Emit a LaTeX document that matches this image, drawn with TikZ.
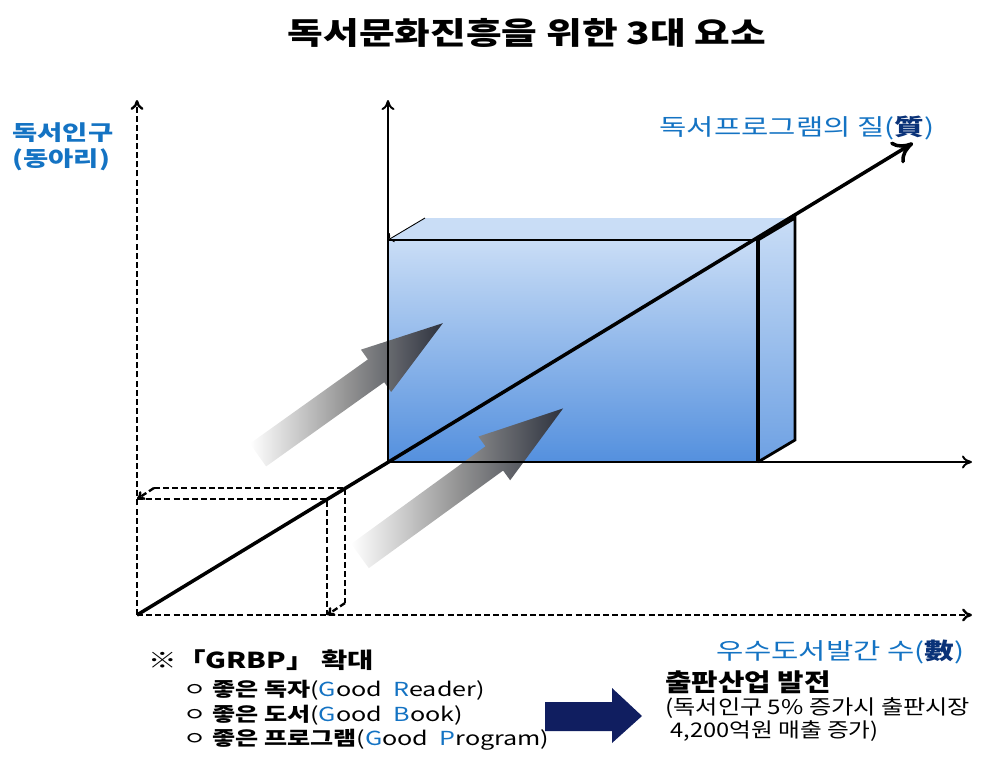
\documentclass[tikz,border=0pt]{standalone}
\usepackage{fontspec}
\setmainfont{Noto Sans CJK KR}
\usetikzlibrary{arrows.meta}

\definecolor{labelblue}{RGB}{20,115,195}
\definecolor{darkblue}{RGB}{10,50,120}
\definecolor{facetop}{RGB}{201,221,246}
\definecolor{facebot}{RGB}{84,144,222}
\definecolor{navy}{RGB}{16,30,96}
\definecolor{slate}{RGB}{45,50,62}

\tikzset{
  lbl/.style={inner sep=0pt, xscale=1.3},
  axtip/.style={-{To[length=2mm,width=2.6mm]}},
  dsh/.style={dash pattern=on 3.4pt off 1.8pt, line width=1.35pt},
  shadowarrow/.style={left color=white, right color=slate, middle color=black!42}
}

\begin{document}
\begin{tikzpicture}[x=0.02cm, y=-0.02cm]
	  \useasboundingbox (0,0) rectangle (992,765);

	  % box
	  \fill [facetop] (388,240)--(425,218)--(795,218)--(758,240)--cycle;
	  \shade [top color=facetop, middle color=facetop!92!facebot, bottom color=facebot] (388,240) rectangle (758,462);
	  \shade [top color=facetop, bottom color=facebot!85] (758,240)--(795,218)--(795,440)--(758,462)--cycle;

	  % shadow arrows
	  \begin{scope}[shift={(258,455)}, rotate=35.5]
	    \shade [shadowarrow] (0,-14)--(145,-14)--(145,-26)--(227,0)--(145,26)--(145,14)--(0,14)--cycle;
	  \end{scope}
	  \begin{scope}[shift={(360,556)}, rotate=36]
	    \shade [shadowarrow] (0,-15)--(166,-15)--(166,-27)--(251,0)--(166,27)--(166,15)--(0,15)--cycle;
	  \end{scope}

	  % box outline
	  \draw [line width=1.2pt] (388,240)--(758,240);
	  \draw [line width=1.8pt] (758,240)--(758,462);
	  \draw [line width=1.6pt] (758,240)--(795,218)--(795,440)--(758,462);
	  \draw [line width=0.5pt, -{To[length=1mm]}] (425,218)--(388,240);

	  % axes
	  \draw [dsh, axtip] (137,615)--(137,100);
	  \draw [dsh, axtip] (137,615)--(972,615);
	  \draw [line width=1.1pt, axtip] (388,462)--(388,100);
	  \draw [line width=1.1pt, axtip] (388,462)--(972,462);

	  % small box
	  \draw [dsh] (137,499)--(327,499)--(327,615);
	  \draw [dsh] (154,488)--(345,488)--(345,603);
	  \draw [dsh, -{To[length=1.5mm,width=2mm]}] (154,488)--(137,499);
	  \draw [dsh, -{To[length=1.5mm,width=2mm]}] (345,603)--(327,615);

	  \draw [line width=2pt, -{To[length=4mm,width=5mm]}] (137,615)--(913,143);

	  % texts
	  \node [lbl, xscale=0.97, font=\fontsize{17.5}{20}\selectfont\bfseries] (title) at (527,33) {독서문화진흥을 위한 3대 요소};

	  \node [lbl, anchor=west, text=labelblue, font=\fontsize{12}{14}\selectfont\bfseries] (ylabel) at (12,133) {독서인구};
	  \node [lbl, anchor=west, text=labelblue, font=\fontsize{12}{14}\selectfont\bfseries] (ysub) at (12,160) {(동아리)};
	  \node [lbl, anchor=east, text=labelblue, font=\fontsize{13}{15}\selectfont] (zlabel) at (935,128) {독서프로그램의 질(\textcolor{darkblue}{\bfseries 質})};
	  \node [lbl, anchor=east, text=labelblue, font=\fontsize{13}{15}\selectfont] (xlabel) at (965,652) {우수도서발간 수(\textcolor{darkblue}{\bfseries 數})};

	  \node [lbl, anchor=west, font=\fontsize{12.5}{15}\selectfont\bfseries] (grbp) at (148,660) {※「GRBP」 확대};
	  \node [lbl, anchor=west, font=\fontsize{11}{13}\selectfont] (good1) at (183,690) {ㅇ \textbf{좋은 독자}(\textcolor{labelblue}{G}ood~ \textcolor{labelblue}{R}eader)};
	  \node [lbl, anchor=west, font=\fontsize{11}{13}\selectfont] (good2) at (183,715) {ㅇ \textbf{좋은 도서}(\textcolor{labelblue}{G}ood~ \textcolor{labelblue}{B}ook)};
	  \node [lbl, anchor=west, font=\fontsize{11}{13}\selectfont] (good3) at (183,740) {ㅇ \textbf{좋은 프로그램}(\textcolor{labelblue}{G}ood~ \textcolor{labelblue}{P}rogram)};

	  \fill [navy] (545,702)--(612,702)--(612,688)--(642,716)--(612,743)--(612,731)--(545,731)--cycle;

	  \node [lbl, anchor=west, xscale=0.9, font=\fontsize{14}{16}\selectfont\bfseries] (result) at (665,682) {출판산업 발전};
	  \node [lbl, anchor=west, xscale=0.92, font=\fontsize{11.5}{14}\selectfont] (result2) at (665,708) {(독서인구 5\% 증가시 출판시장};
	  \node [lbl, anchor=west, xscale=0.9, font=\fontsize{11.5}{14}\selectfont] (result3) at (670,731) {4,200억원 매출 증가)};
\end{tikzpicture}
\end{document}
